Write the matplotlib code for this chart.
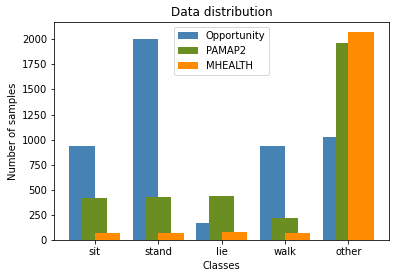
import matplotlib
matplotlib.use("Agg")
import matplotlib.pyplot as plt
import numpy as np

classes = ['sit', 'stand', 'lie', 'walk', 'other']
opportunity = [940, 2000, 170, 940, 1030]
pamap2 = [420, 430, 440, 220, 1960]
mhealth = [70, 70, 80, 70, 2070]

x = np.arange(len(classes))
w = 0.4

fig = plt.figure(figsize=(395/72, 278/72), dpi=72)
ax = fig.add_subplot(111)
fig.subplots_adjust(left=0.137, right=0.985, top=0.921, bottom=0.137)

ax.bar(x - 0.2, opportunity, w, color='steelblue', label='Opportunity')
ax.bar(x, pamap2, w, color='olivedrab', label='PAMAP2')
ax.bar(x + 0.2, mhealth, w, color='darkorange', label='MHEALTH')

ax.set_xticks(x)
ax.set_xticklabels(classes)
ax.set_xlabel('Classes')
ax.set_ylabel('Number of samples')
ax.set_title('Data distribution')
ax.legend(loc='upper center')

fig.savefig('out.png', dpi=72)
